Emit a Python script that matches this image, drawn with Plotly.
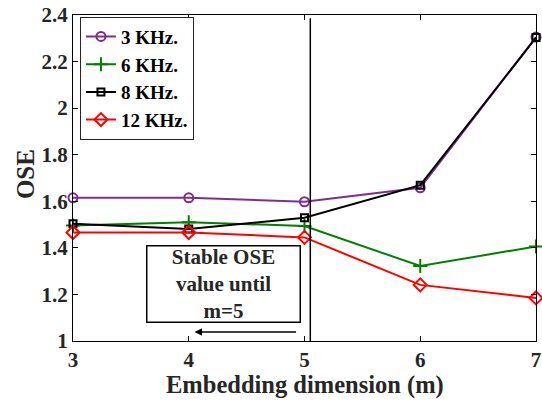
import plotly.graph_objects as go

m = [3, 4, 5, 6, 7]
ose_3k = [1.615, 1.615, 1.598, 1.658, 2.305]
ose_6k = [1.496, 1.510, 1.494, 1.322, 1.406]
ose_8k = [1.504, 1.481, 1.529, 1.669, 2.303]
ose_12k = [1.466, 1.466, 1.445, 1.241, 1.185]
names = ["3 KHz.", "6 KHz.", "8 KHz.", "12 KHz."]
yticks = [1, 1.2, 1.4, 1.6, 1.8, 2, 2.2, 2.4]

font = "Times New Roman"
fig = go.Figure()
specs = [
    (ose_3k, names[0], "#7E2F8E", "circle-open", 9),
    (ose_6k, names[1], "#008000", "cross-thin-open", 10),
    (ose_8k, names[2], "#000000", "square-open", 7),
    (ose_12k, names[3], "#FF0000", "diamond-open", 10),
]
for ys, nm, col, sym, sz in specs:
    fig.add_trace(go.Scatter(
        x=m, y=ys, name="<b>" + nm + "</b>", mode="lines+markers", cliponaxis=False,
        line=dict(color=col, width=2),
        marker=dict(symbol=sym, size=sz, color=col, line=dict(width=2, color=col)),
    ))

fig.add_shape(type="line", x0=5.05, x1=5.05, xref="x", yref="paper", y0=0, y1=0.99,
              line=dict(color="black", width=1.5))

fig.add_annotation(x=4.296, y=1.243, xref="x", yref="y",
                   text="<b>Stable OSE<br>value until<br>m=5</b>", showarrow=False,
                   font=dict(family=font, size=21, color="#262626"),
                   bordercolor="black", borderwidth=1.5, bgcolor="white",
                   width=150, height=73, borderpad=1)
fig.add_annotation(x=4.05, y=1.039, ax=4.94, ay=1.039, xref="x", yref="y",
                   axref="x", ayref="y", text="", showarrow=True,
                   arrowhead=2, arrowsize=1, arrowwidth=1.5, arrowcolor="black")

# axis titles
fig.add_annotation(x=0.5, y=-0.135, xref="paper", yref="paper", yanchor="middle",
                   text="<b>Embedding dimension (m)</b>", showarrow=False,
                   font=dict(family=font, size=24.5, color="#262626"))
fig.add_annotation(x=-48 / 463, y=0.512, xref="paper", yref="paper", xanchor="center",
                   yanchor="middle", text="<b>OSE</b>", showarrow=False, textangle=-90,
                   font=dict(family=font, size=25, color="#262626"))

axis_common = dict(showline=True, linecolor="black", linewidth=1, mirror="ticks",
                   ticks="inside", ticklen=5, tickcolor="black", showgrid=False,
                   zeroline=False, automargin=False,
                   tickfont=dict(family=font, size=21, color="#262626"))
fig.update_xaxes(range=[3, 7], tickvals=m, ticktext=["<b>%d</b>" % v for v in m],
                 **axis_common)
fig.update_yaxes(range=[1, 2.4], tickvals=yticks,
                 ticktext=["<b>%g</b>" % v for v in yticks], **axis_common)

fig.update_layout(
    width=542, height=402, margin=dict(l=73, r=6, t=15, b=61),
    plot_bgcolor="white", paper_bgcolor="white",
    legend=dict(x=0.015, y=0.995, xanchor="left", yanchor="top",
                bordercolor="#262626", borderwidth=1, bgcolor="white",
                font=dict(family=font, size=19, color="black"), tracegroupgap=0,
                itemwidth=30),
)

fig.write_html("out.html", config={"displayModeBar": False},
               post_script="document.body.style.margin='0';")
